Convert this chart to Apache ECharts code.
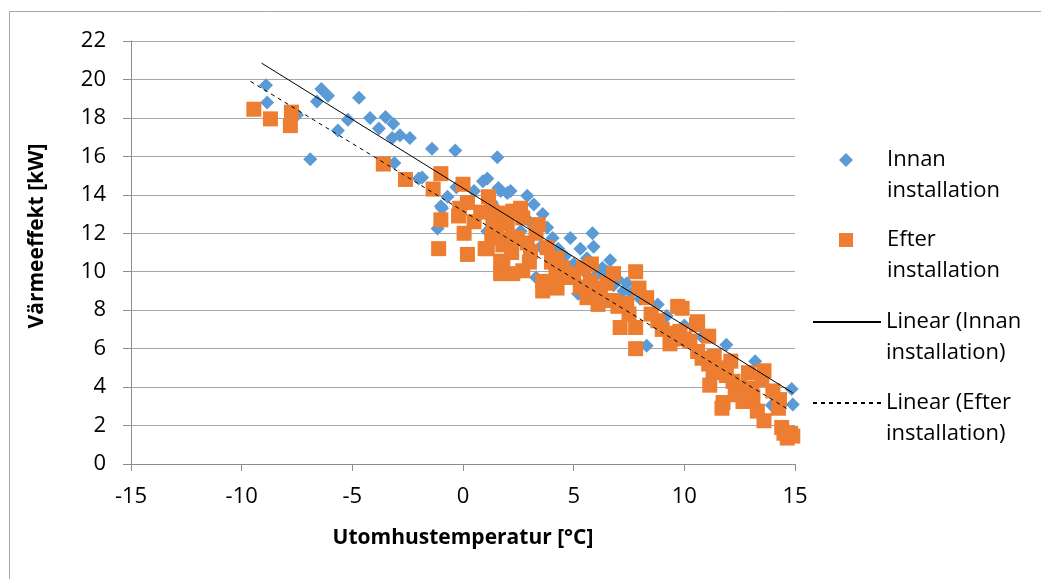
<!DOCTYPE html>
<html>
<head>
<meta charset="utf-8">
<script src="https://cdn.jsdelivr.net/npm/echarts@6/dist/echarts.min.js"></script>
<style>
  html, body { margin: 0; padding: 0; background: #fff; }
  #chart { width: 1041px; height: 579px; }
</style>
</head>
<body>
<div id="chart"></div>
<script>
  // x = Utomhustemperatur [°C], y = Värmeeffekt [kW]
  const innan = [
    [-8.9, 19.7], [-8.85, 18.8], [-7.5, 18.15], [-6.9, 15.85], [-6.6, 18.85], [-6.4, 19.5],
    [-6.1, 19.15], [-5.65, 17.35], [-5.2, 17.9], [-4.7, 19.05], [-4.2, 18.0], [-3.8, 17.45],
    [-3.5, 18.05], [-3.15, 17.7], [-3.2, 16.95], [-2.85, 17.1], [-2.4, 16.95], [-3.1, 15.65],
    [-1.85, 14.9], [-2.0, 14.85], [-1.4, 16.4], [-0.35, 16.3], [1.55, 15.95], [-0.7, 13.9],
    [-0.95, 13.3], [-1.15, 12.25], [0.9, 14.7], [1.1, 14.85], [1.6, 14.35], [1.7, 14.2],
    [2.0, 14.1], [2.15, 14.2], [2.9, 13.95], [3.2, 13.5], [3.6, 13.0], [1.1, 12.1],
    [1.6, 11.6], [4.05, 11.75], [4.85, 11.75], [5.85, 12.0], [5.3, 11.2], [5.6, 10.7],
    [6.5, 10.0], [6.65, 10.6], [3.3, 9.7], [5.2, 8.85], [7.25, 9.0], [7.4, 9.4],
    [8.8, 8.3], [8.3, 6.15], [11.9, 6.2], [13.2, 5.35], [14.85, 3.9], [14.9, 3.1],
    [13.95, 3.05], [3.8, 12.3], [4.3, 11.2], [4.6, 10.8], [5.0, 10.4], [5.5, 10.0],
    [6.0, 9.8], [6.8, 9.3], [7.6, 8.9], [8.0, 8.6], [2.4, 13.3], [3.0, 12.6],
    [1.3, 13.6], [0.5, 14.2], [-0.3, 14.4], [5.9, 11.3], [6.3, 10.2], [7.0, 9.6],
    [9.2, 7.7], [10.0, 7.2], [10.8, 6.6], [-1.0, 13.4], [2.6, 12.1], [3.5, 11.3]
  ];

  const efter = [
    [-9.45, 18.45], [-8.7, 17.95], [-7.75, 18.3], [-7.8, 17.6], [-3.6, 15.6], [-2.6, 14.8],
    [-1.0, 15.1], [-1.35, 14.3], [0.0, 14.55], [-0.15, 13.3], [1.15, 13.9], [-1.0, 12.7],
    [-0.2, 12.9], [0.5, 12.6], [0.05, 12.0], [-1.1, 11.2], [0.2, 10.9], [1.1, 11.2],
    [1.8, 11.4], [1.8, 10.45], [1.7, 9.9], [1.3, 11.75], [2.25, 11.75], [1.3, 13.15],
    [1.6, 13.05], [2.6, 13.3], [3.4, 12.45], [1.35, 12.4], [1.0, 11.2], [1.85, 11.7],
    [2.45, 11.75], [3.05, 11.05], [3.8, 11.25], [4.25, 10.7], [1.7, 10.55], [2.25, 9.9],
    [2.7, 10.05], [3.6, 9.5], [3.6, 9.0], [4.25, 9.15], [4.7, 9.7], [5.75, 9.5],
    [5.6, 8.65], [6.2, 9.0], [6.45, 8.5], [2.7, 12.8], [2.25, 13.15], [5.45, 10.2],
    [6.8, 9.9], [7.8, 10.0], [7.95, 9.15], [6.2, 9.15], [6.8, 8.5], [7.4, 8.35],
    [8.3, 8.65], [9.7, 8.2], [8.8, 7.45], [7.1, 7.1], [7.8, 7.1], [7.8, 6.0],
    [9.35, 6.25], [9.8, 6.9], [10.55, 7.25], [10.25, 6.4], [11.1, 5.2], [6.1, 8.3],
    [9.9, 8.1], [10.6, 7.4], [11.1, 6.65], [10.6, 5.85], [11.35, 5.6], [12.1, 5.35],
    [13.6, 4.85], [12.9, 4.75], [11.3, 4.75], [11.15, 4.1], [12.2, 4.3], [13.05, 3.95],
    [11.75, 3.2], [11.7, 2.9], [12.65, 3.25], [13.3, 2.75], [13.6, 2.25], [14.3, 3.35],
    [14.25, 2.9], [14.4, 1.9], [14.8, 1.6], [14.65, 1.35], [14.9, 1.45], [14.5, 1.6],
    [2.0, 12.5], [2.9, 11.5], [3.3, 12.0], [4.0, 10.5], [4.5, 10.2], [5.0, 9.9],
    [5.3, 9.2], [5.9, 8.9], [6.5, 9.4], [7.0, 8.2], [3.0, 10.5], [2.2, 11.0],
    [4.2, 9.8], [1.5, 12.2], [0.8, 13.1], [5.8, 10.4], [7.5, 7.8], [8.5, 7.8],
    [9.0, 7.0], [9.5, 6.8], [10.0, 6.5], [10.8, 5.5], [11.5, 5.0], [12.5, 4.0],
    [13.1, 3.5], [13.5, 4.4], [14.0, 3.8], [12.3, 3.6], [11.9, 4.6], [0.2, 13.6]
  ];

  // trendlinjer, avlästa ändpunkter
  const linjeInnan = [[-9.1, 20.85], [14.9, 3.7]];
  const linjeEfter = [[-9.6, 19.9], [14.75, 2.8]];

  const xMin = -15, xMax = 15, xStep = 5;
  const yMin = 0, yMax = 22, yStep = 2;

  const font = '"Open Sans", "Liberation Sans", sans-serif';
  const chart = echarts.init(document.getElementById('chart'));

  function legendName(name) {
    return '\n' + name.replace(' installation', '\ninstallation');
  }
  // punktserie: liten ikon, texten flyttas åt höger med padding
  function punktLegend(name, top) {
    return {
      orient: 'vertical', left: 839, top: top, padding: 0,
      itemWidth: 14, itemHeight: 14, itemGap: 0,
      selectedMode: false, formatter: legendName,
      textStyle: { fontFamily: font, fontSize: 22, lineHeight: 31, color: '#000', padding: [0, 0, 0, 29] },
      data: [name]
    };
  }
  // linjeserie: lång linje, punkten döljs
  function linjeLegend(name, top) {
    return {
      orient: 'vertical', left: 812, top: top, padding: 0,
      itemWidth: 68, itemHeight: 14, itemGap: 0,
      selectedMode: false, formatter: legendName,
      textStyle: { fontFamily: font, fontSize: 22, lineHeight: 31, color: '#000' },
      itemStyle: { opacity: 0, borderWidth: 0 },
      data: [name]
    };
  }

  const option = {
    animation: false,
    backgroundColor: '#fff',
    grid: { left: 131, right: 246, top: 41, bottom: 115 },
    legend: [
      punktLegend('Innan installation', 160 - 46.5),
      punktLegend('Efter installation', 240 - 46.5),
      linjeLegend('Linear (Innan installation)', 322 - 46.5),
      linjeLegend('Linear (Efter installation)', 403 - 46.5)
    ],
    graphic: [
      {
        type: 'rect', silent: true, z: -1,
        shape: { x: 9.5, y: 11.5, width: 1200, height: 800 },
        style: { fill: 'none', stroke: '#a6a6a6', lineWidth: 1 }
      },
      {
        type: 'text', x: 37, y: 236, rotation: Math.PI / 2,
        style: {
          text: 'Värmeeffekt [kW]', fontFamily: font, fontSize: 21, fontWeight: 'bold',
          fill: '#000', align: 'center', verticalAlign: 'middle'
        }
      }
    ],
    xAxis: {
      type: 'value', min: xMin, max: xMax, interval: xStep,
      name: 'Utomhustemperatur [°C]', nameLocation: 'middle', nameGap: 64,
      nameTextStyle: { fontFamily: font, fontSize: 21, fontWeight: 'bold', color: '#000' },
      axisLine: { onZero: false, lineStyle: { color: '#8c8c8c', width: 1 } },
      axisTick: { show: true, length: 7, lineStyle: { color: '#8c8c8c' } },
      axisLabel: { margin: 22, fontFamily: font, fontSize: 22, color: '#000' },
      splitLine: { show: false }
    },
    yAxis: {
      type: 'value', min: yMin, max: yMax, interval: yStep,
      axisLine: { show: true, onZero: false, lineStyle: { color: '#8c8c8c', width: 1 } },
      axisTick: { show: true, length: 8, lineStyle: { color: '#8c8c8c' } },
      axisLabel: { margin: 25, fontFamily: font, fontSize: 22, color: '#000' },
      splitLine: { show: true, lineStyle: { color: '#a6a6a6', width: 1 } }
    },
    series: [
      {
        name: 'Innan installation',
        type: 'scatter',
        symbol: 'diamond',
        symbolSize: 14,
        itemStyle: { color: '#5b9bd5', opacity: 1 },
        data: innan,
        z: 2
      },
      {
        name: 'Efter installation',
        type: 'scatter',
        symbol: 'rect',
        symbolSize: 15,
        itemStyle: { color: '#ed7d31', opacity: 1 },
        data: efter,
        z: 3
      },
      {
        name: 'Linear (Innan installation)',
        type: 'line',
        symbol: 'none',
        data: linjeInnan,
        lineStyle: { color: '#000', width: 1 },
        itemStyle: { color: '#000' },
        z: 4
      },
      {
        name: 'Linear (Efter installation)',
        type: 'line',
        symbol: 'none',
        data: linjeEfter,
        lineStyle: { color: '#000', width: 1, type: [4, 4] },
        itemStyle: { color: '#000' },
        z: 4
      }
    ]
  };

  chart.setOption(option);
  window.addEventListener('resize', function () {
    chart.resize();
  });
</script>
</body>
</html>
